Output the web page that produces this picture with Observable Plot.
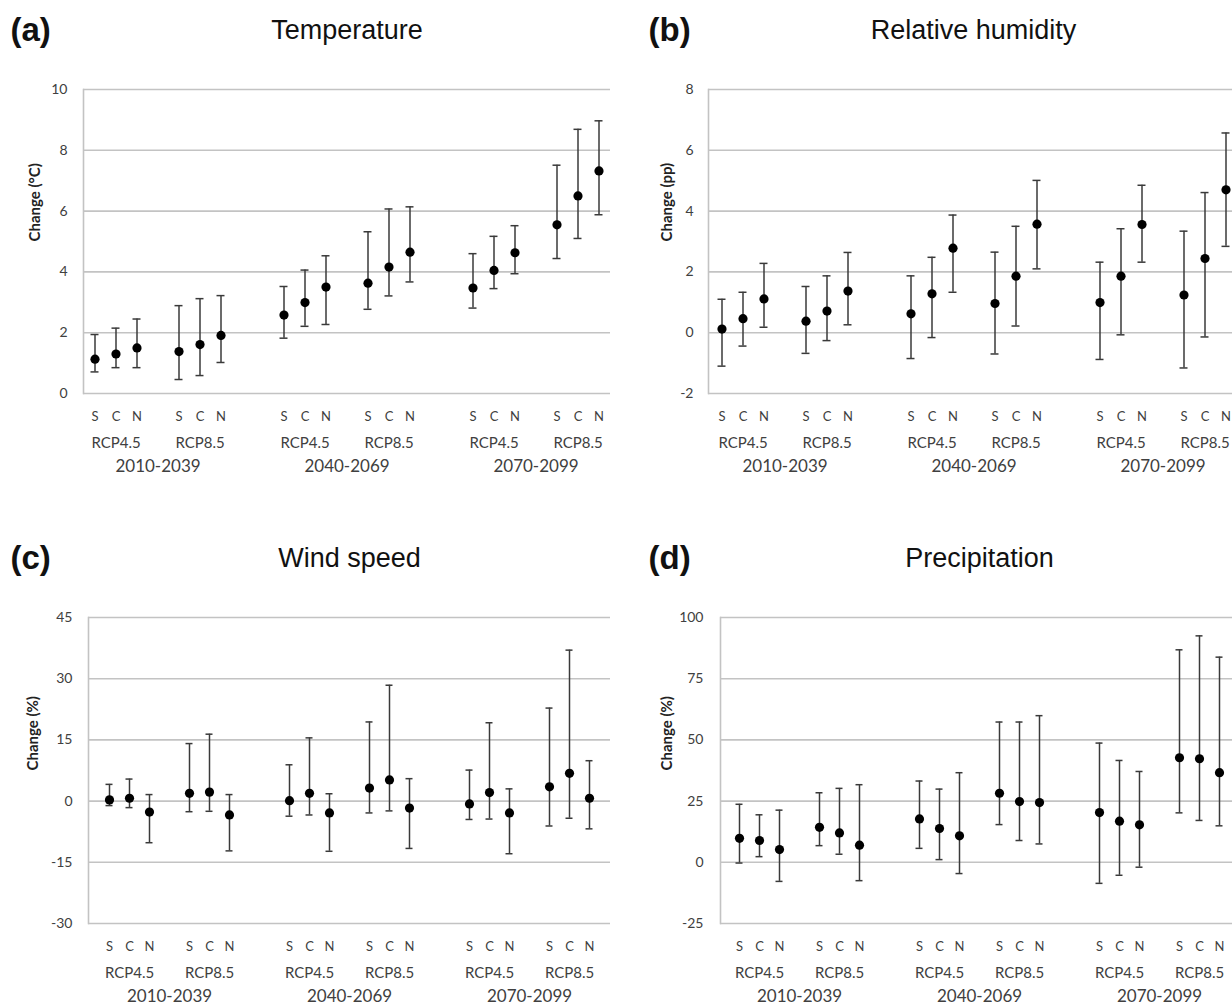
<!DOCTYPE html>
<html><head><meta charset="utf-8">
<script src="https://cdn.jsdelivr.net/npm/d3@7"></script>
<script src="https://cdn.jsdelivr.net/npm/@observablehq/plot@0.6"></script>
<style>
html,body{margin:0;padding:0;background:#fff;}
#fig{position:relative;width:1232px;height:1008px;overflow:hidden;background:#fff;}
#fig svg{position:absolute;overflow:visible;}
</style></head><body><div id="fig"></div>
<script>
// categories
const periods = ["2010-2039", "2040-2069", "2070-2099"];
const scenarios = ["RCP4.5", "RCP8.5"];
const regions = ["S", "C", "N"];

// (a) Temperature change (°C): order period > scenario > region
const tempMean = [1.13, 1.30, 1.50, 1.38, 1.61, 1.91, 2.58, 2.99, 3.50, 3.63, 4.16, 4.65, 3.47, 4.05, 4.63, 5.55, 6.50, 7.32];
const tempLow  = [0.71, 0.85, 0.85, 0.46, 0.59, 1.02, 1.82, 2.21, 2.27, 2.77, 3.21, 3.67, 2.81, 3.45, 3.94, 4.44, 5.10, 5.88];
const tempHigh = [1.94, 2.15, 2.45, 2.89, 3.12, 3.22, 3.52, 4.06, 4.53, 5.32, 6.07, 6.14, 4.60, 5.17, 5.52, 7.51, 8.69, 8.97];
const tempTicks = [0, 2, 4, 6, 8, 10];

// (b) Relative humidity change (pp)
const rhMean = [0.12, 0.46, 1.11, 0.38, 0.71, 1.37, 0.62, 1.28, 2.78, 0.96, 1.86, 3.57, 0.99, 1.86, 3.56, 1.24, 2.44, 4.70];
const rhLow  = [-1.10, -0.44, 0.18, -0.68, -0.26, 0.26, -0.85, -0.16, 1.33, -0.70, 0.22, 2.10, -0.88, -0.07, 2.32, -1.16, -0.14, 2.84];
const rhHigh = [1.10, 1.33, 2.28, 1.52, 1.87, 2.64, 1.87, 2.48, 3.87, 2.65, 3.50, 5.01, 2.32, 3.42, 4.85, 3.34, 4.61, 6.57];
const rhTicks = [-2, 0, 2, 4, 6, 8];

// (c) Wind speed change (%)
const windMean = [0.3, 0.7, -2.7, 1.9, 2.2, -3.4, 0.1, 1.9, -2.9, 3.2, 5.2, -1.7, -0.7, 2.1, -2.9, 3.5, 6.8, 0.7];
const windLow  = [-1.1, -1.6, -10.2, -2.6, -2.5, -12.2, -3.7, -3.4, -12.3, -2.9, -2.4, -11.6, -4.5, -4.4, -12.9, -6.1, -4.2, -6.8];
const windHigh = [4.1, 5.4, 1.6, 14.1, 16.4, 1.6, 8.9, 15.5, 1.8, 19.4, 28.4, 5.5, 7.6, 19.2, 3.0, 22.8, 37.0, 9.9];
const windTicks = [-30, -15, 0, 15, 30, 45];

// (d) Precipitation change (%)
const precMean = [9.8, 8.9, 5.2, 14.3, 12.0, 7.0, 17.7, 13.8, 10.8, 28.2, 24.8, 24.4, 20.3, 16.8, 15.3, 42.7, 42.3, 36.6];
const precLow  = [-0.3, 2.3, -7.8, 6.8, 3.3, -7.5, 5.7, 1.1, -4.6, 15.4, 8.9, 7.5, -8.6, -5.3, -2.0, 20.2, 17.1, 14.9];
const precHigh = [23.7, 19.4, 21.3, 28.4, 30.2, 31.7, 33.2, 29.9, 36.6, 57.3, 57.3, 59.9, 48.7, 41.6, 37.1, 86.8, 92.5, 83.8];
const precTicks = [-25, 0, 25, 50, 75, 100];

// category slots (with blank separators) for the band scale
const slots = [];
periods.forEach((p, pi) => {
  if (pi > 0) slots.push(`gapA${pi}`, `gapB${pi}`);
  scenarios.forEach((s, si) => {
    if (si > 0) slots.push(`mid${pi}`);
    regions.forEach(r => slots.push(`${pi}|${s}|${r}`));
  });
});
const regionRows = [], scenRows = [], periodRows = [];
periods.forEach((p, pi) => {
  periodRows.push({slot: `mid${pi}`, label: p});
  scenarios.forEach(s => {
    scenRows.push({slot: `${pi}|${s}|C`, label: s});
    regions.forEach(r => regionRows.push({slot: `${pi}|${s}|${r}`, label: r}));
  });
});

const panels = [
  {tag: "(a)", title: "Temperature", ylabel: "Change (°C)", mean: tempMean, lo: tempLow, hi: tempHigh, ticks: tempTicks,
   left: 0, top: 0, ml: 83, pw: 527, ph: 304, pad: 16, yl: 48, tagdx: -73},
  {tag: "(b)", title: "Relative humidity", ylabel: "Change (pp)", mean: rhMean, lo: rhLow, hi: rhHigh, ticks: rhTicks,
   left: 620, top: 0, ml: 88, pw: 530, ph: 304, pad: 15, yl: 41, tagdx: -60},
  {tag: "(c)", title: "Wind speed", ylabel: "Change (%)", mean: windMean, lo: windLow, hi: windHigh, ticks: windTicks,
   left: 0, top: 528, ml: 88, pw: 522, ph: 306, pad: 16, yl: 55, tagdx: -78},
  {tag: "(d)", title: "Precipitation", ylabel: "Change (%)", mean: precMean, lo: precLow, hi: precHigh, ticks: precTicks,
   left: 620, top: 528, ml: 100, pw: 518, ph: 306, pad: 17, yl: 53, tagdx: -72}
];

const fig = document.getElementById("fig");
const grid = "#c3c3c3", ink = "#3a3a3a", txt = "#404040";
const mt = 89, mb = 100, mr = 10;

for (const P of panels) {
  const rows = P.mean.map((m, i) => {
    const pi = Math.floor(i / 6), si = Math.floor(i / 3) % 2, ri = i % 3;
    return {slot: `${pi}|${scenarios[si]}|${regions[ri]}`, mean: m, lo: P.lo[i], hi: P.hi[i]};
  });
  const chart = Plot.plot({
    width: P.ml + P.pw + mr,
    height: mt + P.ph + mb,
    marginLeft: P.ml, marginRight: mr, marginTop: mt, marginBottom: mb,
    style: {fontFamily: "Lato, 'Open Sans', sans-serif", fontSize: "14px", background: "transparent", overflow: "visible"},
    x: {type: "band", domain: slots, padding: 0, axis: null},
    y: {domain: [P.ticks[0], P.ticks[P.ticks.length - 1]], axis: null},
    marks: [
      Plot.ruleY(P.ticks, {stroke: grid, strokeWidth: 1.6}),
      Plot.frame({anchor: "left", stroke: grid, strokeWidth: 1.6}),
      Plot.axisY(P.ticks, {tickSize: 0, tickPadding: P.pad, fill: txt, fontSize: 14, label: null, tickFormat: d => String(d)}),
      Plot.ruleX(rows, {x: "slot", y1: "lo", y2: "hi", stroke: ink, strokeWidth: 1.5}),
      Plot.tickY(rows, {x: "slot", y: "lo", stroke: ink, strokeWidth: 1.5, insetLeft: 6.5, insetRight: 6.5}),
      Plot.tickY(rows, {x: "slot", y: "hi", stroke: ink, strokeWidth: 1.5, insetLeft: 6.5, insetRight: 6.5}),
      Plot.dot(rows, {x: "slot", y: "mean", r: 4.6, fill: "black", stroke: "none"}),
      Plot.text(regionRows, {x: "slot", text: "label", frameAnchor: "bottom", lineAnchor: "middle", dy: 23, fontSize: 13, fill: txt}),
      Plot.text(scenRows, {x: "slot", text: "label", frameAnchor: "bottom", lineAnchor: "middle", dy: 50, fontSize: 15, fill: txt}),
      Plot.text(periodRows, {x: "slot", text: "label", frameAnchor: "bottom", lineAnchor: "middle", dy: 73, fontSize: 17, fill: txt}),
      Plot.text([P.ylabel], {frameAnchor: "left", lineAnchor: "middle", dx: -P.yl, rotate: -90, fontSize: 15, fontWeight: "bold", fill: "#222"}),
      Plot.text([P.title], {frameAnchor: "top", lineAnchor: "middle", dy: -59, fontSize: 27, fontFamily: "'Liberation Sans', Arial, sans-serif", fill: "#111"}),
      Plot.text([P.tag], {frameAnchor: "top-left", lineAnchor: "middle", dx: P.tagdx, dy: -59, textAnchor: "start", fontSize: 33, fontWeight: "bold", fontFamily: "'Liberation Sans', Arial, sans-serif", fill: "#111"})
    ]
  });
  chart.style.left = P.left + "px";
  chart.style.top = P.top + "px";
  fig.appendChild(chart);
}
</script>
</body></html>
